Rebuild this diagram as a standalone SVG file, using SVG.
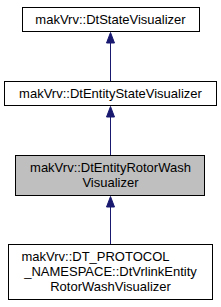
<svg xmlns="http://www.w3.org/2000/svg" width="221" height="307" viewBox="0 0 221 307">
<style>
.box{fill:#ffffff;stroke:#000000;stroke-width:1}
.cur{fill:#bfbfbf;stroke:#000000;stroke-width:1}
text{font-family:"Liberation Sans",Arial,sans-serif;font-size:13px;fill:#000000;text-anchor:middle}
.edge{stroke:#191970;stroke-width:1;fill:none}
.head{fill:#191970;stroke:#191970;stroke-width:1}
</style>
<g id="connectors">
<line class="edge" x1="110.5" y1="81" x2="110.5" y2="42"/>
<polygon class="head" points="110.5,32.5 106.5,43 114.5,43"/>
<line class="edge" x1="110.5" y1="155" x2="110.5" y2="116"/>
<polygon class="head" points="110.5,106.5 106.5,117 114.5,117"/>
<line class="edge" x1="110.5" y1="244" x2="110.5" y2="206"/>
<polygon class="head" points="110.5,196.5 106.5,207 114.5,207"/>
</g>
<g id="node1">
<rect class="box" x="22.5" y="7.5" width="177" height="24"/>
<text x="110.5" y="24">makVrv::DtStateVisualizer</text>
</g>
<g id="node2">
<rect class="box" x="4.5" y="81.5" width="212" height="24"/>
<text x="110.5" y="98">makVrv::DtEntityStateVisualizer</text>
</g>
<g id="node3">
<rect class="cur" x="15.5" y="155.5" width="189" height="40"/>
<text x="110.5" y="172">makVrv::DtEntityRotorWash</text>
<text x="110.5" y="187">Visualizer</text>
</g>
<g id="node4">
<rect class="box" x="8.5" y="244.5" width="204" height="55"/>
<text x="95.5" y="261">makVrv::DT_PROTOCOL</text>
<text x="110.5" y="276">_NAMESPACE::DtVrlinkEntity</text>
<text x="110.5" y="291">RotorWashVisualizer</text>
</g>
</svg>
